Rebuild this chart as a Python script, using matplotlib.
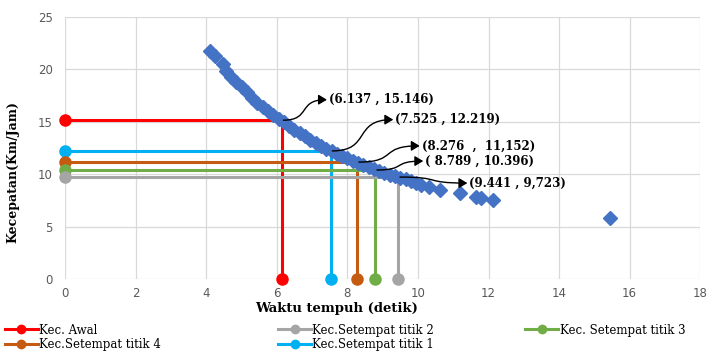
import matplotlib
matplotlib.use("Agg")
import matplotlib.pyplot as plt
from matplotlib.lines import Line2D
from matplotlib.patches import FancyArrowPatch
from matplotlib.path import Path

WAKTU = [4.12, 4.25, 4.48, 4.55, 4.70, 4.85, 5.00, 5.15, 5.30, 5.45, 5.60, 5.75,
         5.90, 6.05, 6.20, 6.35, 6.50, 6.65, 6.80, 6.95, 7.10, 7.25, 7.40, 7.55,
         7.70, 7.85, 8.00, 8.15, 8.30, 8.45, 8.60, 8.75, 8.90, 9.05, 9.20, 9.35,
         9.50, 9.65, 9.80, 9.95, 10.10, 10.30, 10.62, 11.19, 11.65, 11.80, 12.12, 15.45]
KECEPATAN = [21.7, 21.3, 20.5, 19.8, 19.3, 18.8, 18.3, 17.8, 17.3, 16.8, 16.4, 16.0,
             15.6, 15.3, 15.0, 14.6, 14.2, 13.9, 13.6, 13.3, 13.0, 12.7, 12.4, 12.2,
             11.95, 11.7, 11.5, 11.3, 11.1, 10.9, 10.7, 10.5, 10.3, 10.15, 9.95, 9.8,
             9.65, 9.5, 9.35, 9.2, 9.0, 8.8, 8.5, 8.2, 7.8, 7.7, 7.5, 5.8]

# reference points: travel time, speed
TITIK = ["Kec. Awal", "Kec.Setempat titik 1", "Kec.Setempat titik 4",
         "Kec. Setempat titik 3", "Kec.Setempat titik 2"]
T_TITIK = [6.137, 7.525, 8.276, 8.789, 9.441]
V_TITIK = [15.146, 12.219, 11.152, 10.396, 9.723]
WARNA = ["#FF0000", "#00B0F0", "#C55A11", "#70AD47", "#A5A5A5"]
LABEL = ["(6.137 , 15.146)", "(7.525 , 12.219)", "(8.276  ,  11,152)",
         "( 8.789 , 10.396)", "(9.441 , 9,723)"]
LABEL_XY = [(7.42, 17.1), (9.3, 15.2), (10.05, 12.7), (10.15, 11.25), (11.4, 9.15)]

SERIF = "DejaVu Serif"

fig = plt.figure(figsize=(7.08, 3.51), dpi=100)
ax = fig.add_axes([0.092, 0.205, 0.897, 0.747])

for t, v, col in zip(T_TITIK, V_TITIK, WARNA):
    ax.plot([0, t, t], [v, v, 0], color=col, lw=2.2, zorder=3, solid_capstyle="butt")
    ax.plot([0, t], [v, 0], "o", color=col, ms=8, zorder=4, clip_on=False)

ax.plot(WAKTU, KECEPATAN, "D", color="#4472C4", ms=7, mec="#4472C4", zorder=5,
        clip_on=False)

for (t, v), (tx, ty), lab in zip(zip(T_TITIK, V_TITIK), LABEL_XY, LABEL):
    dx = tx - t
    path = Path([(t + 0.05, v), (t + 0.65 * dx, v), (t + 0.35 * dx, ty), (tx, ty)],
                [Path.MOVETO, Path.CURVE4, Path.CURVE4, Path.CURVE4])
    ax.add_patch(FancyArrowPatch(path=path, arrowstyle="-|>,head_length=5,head_width=3",
                                 color="black", lw=1.0, zorder=6))
    ax.text(tx + 0.06, ty, lab, fontfamily=SERIF, fontweight="bold", fontsize=8.5,
            va="center", ha="left", zorder=6)

ax.set_xlim(0, 18)
ax.set_ylim(0, 25)
ax.set_xticks(range(0, 19, 2))
ax.set_yticks(range(0, 26, 5))
ax.grid(True, color="#D9D9D9", lw=0.9)
ax.set_axisbelow(True)
for s in ax.spines.values():
    s.set_visible(False)
ax.tick_params(axis="y", length=0, labelsize=8.5, labelcolor="#595959", pad=9)
ax.tick_params(axis="x", length=0, labelsize=8.5, labelcolor="#595959", pad=6)

ax.set_ylabel("Kecepatan(Km/Jam)", fontfamily=SERIF, fontweight="bold", fontsize=9)
ax.yaxis.set_label_coords(-0.072, 0.41)
fig.text(0.475, 0.12, "Waktu tempuh (detik)", fontfamily=SERIF, fontweight="bold",
         fontsize=9.5, ha="center", va="center")

# legend laid out in three columns like the original
handles = {n: Line2D([], [], color=c, lw=2.2, marker="o", ms=6) for n, c in zip(TITIK, WARNA)}
kolom = [(["Kec. Awal", "Kec.Setempat titik 4"], 0.007),
         (["Kec.Setempat titik 2", "Kec.Setempat titik 1"], 0.393),
         (["Kec. Setempat titik 3"], 0.742)]
for names, x in kolom:
    fig.legend([handles[n] for n in names], names, loc="upper left",
               bbox_to_anchor=(x, 0.078), frameon=False, handlelength=2.8,
               handletextpad=0.1, labelspacing=0.1, borderaxespad=0, borderpad=0,
               prop={"family": SERIF, "size": 8.5})

fig.savefig("out.png", dpi=100)
